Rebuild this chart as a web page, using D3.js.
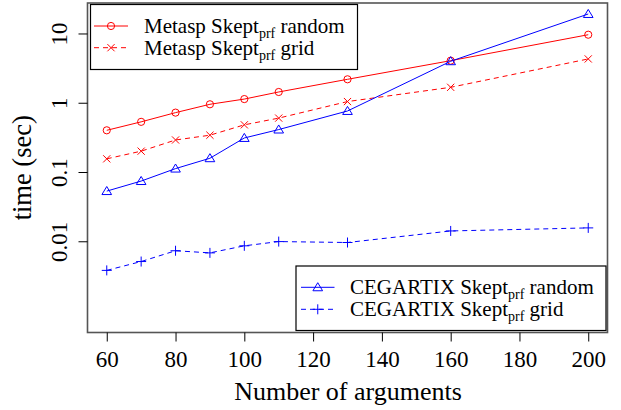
<!DOCTYPE html>
<html>
<head>
<meta charset="utf-8">
<script src="https://cdn.jsdelivr.net/npm/d3@7"></script>
<style>
  html, body { margin: 0; padding: 0; background: #fff; }
  svg { display: block; font-family: "Liberation Serif", "Times New Roman", serif; }
  svg text { font-family: "Liberation Serif", "Times New Roman", serif; }
</style>
</head>
<body>
<svg id="chart" width="621" height="410"></svg>
<script>
// ---- data ----
const xValues = [60, 70, 80, 90, 100, 110, 130, 160, 200];
const metaspRandom = [0.40, 0.53, 0.72, 0.95, 1.13, 1.43, 2.18, 4.05, 9.6];
const metaspGrid = [0.155, 0.20, 0.29, 0.34, 0.48, 0.60, 1.04, 1.67, 4.29];
const cegartixRandom = [0.053, 0.074, 0.112, 0.158, 0.31, 0.41, 0.76, 3.97, 19.1];
const cegartixGrid = [0.0038, 0.0051, 0.0073, 0.0068, 0.0086, 0.0099, 0.0096, 0.0141, 0.0156];
const xTicks = [60, 80, 100, 120, 140, 160, 180, 200];
const yTicks = [10, 1, 0.1, 0.01];
const yTickLabels = ["10", "1", "0.1", "0.01"];
const seriesNames = ["Metasp", "Metasp", "CEGARTIX", "CEGARTIX"];
const seriesSuffix = ["random", "grid", "random", "grid"];

(function () {
const svg = d3.select("#chart");
const pLeft = 87.5, pRight = 607.5, pTop = 3, pBottom = 332.5;

const x = d3.scaleLinear().domain([54.4, 205.6]).range([pLeft, pRight]);
const y = d3.scaleLog().domain([Math.pow(10, -3.317), Math.pow(10, 1.44)]).range([pBottom, pTop]);

const series = [
  { vals: metaspRandom, color: "#ff0000", dash: null, sym: "circle" },
  { vals: metaspGrid, color: "#ff0000", dash: "5,4", sym: "x" },
  { vals: cegartixRandom, color: "#0000ff", dash: null, sym: "triangle" },
  { vals: cegartixGrid, color: "#0000ff", dash: "5,4", sym: "plus" }
];

function drawSymbol(g, sym, cx, cy, color) {
  if (sym === "circle") {
    g.append("circle").attr("cx", cx).attr("cy", cy).attr("r", 3.6)
      .attr("fill", "none").attr("stroke", color).attr("stroke-width", 1);
  } else if (sym === "x") {
    const s = 3.6;
    g.append("path").attr("d", `M${cx - s},${cy - s}L${cx + s},${cy + s}M${cx - s},${cy + s}L${cx + s},${cy - s}`)
      .attr("stroke", color).attr("stroke-width", 1).attr("fill", "none");
  } else if (sym === "triangle") {
    const s = 4.6;
    g.append("path").attr("d", `M${cx},${cy - s}L${cx + s * 1.05},${cy + s * 0.75}L${cx - s * 1.05},${cy + s * 0.75}Z`)
      .attr("stroke", color).attr("stroke-width", 1).attr("fill", "none");
  } else if (sym === "plus") {
    const s = 5;
    g.append("path").attr("d", `M${cx - s},${cy}L${cx + s},${cy}M${cx},${cy - s}L${cx},${cy + s}`)
      .attr("stroke", color).attr("stroke-width", 1).attr("fill", "none");
  }
}

// series lines and points
const line = d3.line().x((d, i) => x(xValues[i])).y(d => y(d));
series.forEach(s => {
  const g = svg.append("g");
  g.append("path").datum(s.vals).attr("d", line)
    .attr("fill", "none").attr("stroke", s.color).attr("stroke-width", 1)
    .attr("stroke-dasharray", s.dash);
  s.vals.forEach((v, i) => drawSymbol(g, s.sym, x(xValues[i]), y(v), s.color));
});

// plot frame
svg.append("rect").attr("x", pLeft).attr("y", pTop).attr("width", pRight - pLeft).attr("height", pBottom - pTop)
  .attr("fill", "none").attr("stroke", "#555").attr("stroke-width", 1.6);

// x axis
const xAxis = d3.axisBottom(x).tickValues(xTicks).tickSize(9).tickPadding(5).tickFormat(d3.format("d"));
const gx = svg.append("g").attr("transform", `translate(0,${pBottom})`).call(xAxis)
  .attr("font-family", null).attr("font-size", null);
gx.select(".domain").remove();
gx.selectAll("line").attr("stroke", "#000");
gx.selectAll("text").style("font-size", "23px").attr("fill", "#000")
  .style("font-family", "'Liberation Serif', serif").attr("dy", 20.5);

// y axis (rotated labels)
const yAxis = d3.axisLeft(y).tickValues(yTicks).tickSize(9).tickFormat((d, i) => yTickLabels[i]);
const gy = svg.append("g").attr("transform", `translate(${pLeft},0)`).call(yAxis)
  .attr("font-family", null).attr("font-size", null);
gy.select(".domain").remove();
gy.selectAll("line").attr("stroke", "#000");
gy.selectAll("text").style("font-size", "23px").attr("fill", "#000")
  .style("font-family", "'Liberation Serif', serif")
  .attr("x", null).attr("dy", null)
  .attr("text-anchor", "middle")
  .attr("transform", "translate(-21,0) rotate(-90)")
  .attr("y", 0);

// axis titles
svg.append("text").attr("x", (pLeft + pRight) / 2 + 0.5).attr("y", 400).attr("text-anchor", "middle")
  .style("font-size", "26px").text("Number of arguments");
svg.append("text").attr("transform", `translate(31,${(pTop + pBottom) / 2}) rotate(-90)`).attr("text-anchor", "middle")
  .style("font-size", "26.5px").text("time (sec)");

// legends
function legend(bx, by, bw, bh, items, lineX0, lineX1, textX, rowYs) {
  const g = svg.append("g");
  g.append("rect").attr("x", bx).attr("y", by).attr("width", bw).attr("height", bh)
    .attr("fill", "#fff").attr("stroke", "#000").attr("stroke-width", 1.2);
  items.forEach((it, k) => {
    const s = series[it];
    const ry = rowYs[k];
    g.append("line").attr("x1", lineX0).attr("x2", lineX1).attr("y1", ry).attr("y2", ry)
      .attr("stroke", s.color).attr("stroke-width", 1).attr("stroke-dasharray", s.dash);
    drawSymbol(g, s.sym, (lineX0 + lineX1) / 2, ry, s.color);
    const t = g.append("text").attr("x", textX).attr("y", ry).attr("dy", "0.33em").style("font-size", "21px");
    t.append("tspan").text(seriesNames[it] + " Skept");
    t.append("tspan").style("font-size", "14px").attr("dy", "0.35em").text("prf");
    t.append("tspan").attr("dy", "-0.23em").text(" " + seriesSuffix[it]);
  });
}
legend(90.5, 4.5, 267, 65, [0, 1], 94, 128, 144, [26, 47.7]);
legend(296, 266, 310, 64.5, [2, 3], 301, 334.5, 350, [287.3, 309.3]);
})();
</script>
</body>
</html>
